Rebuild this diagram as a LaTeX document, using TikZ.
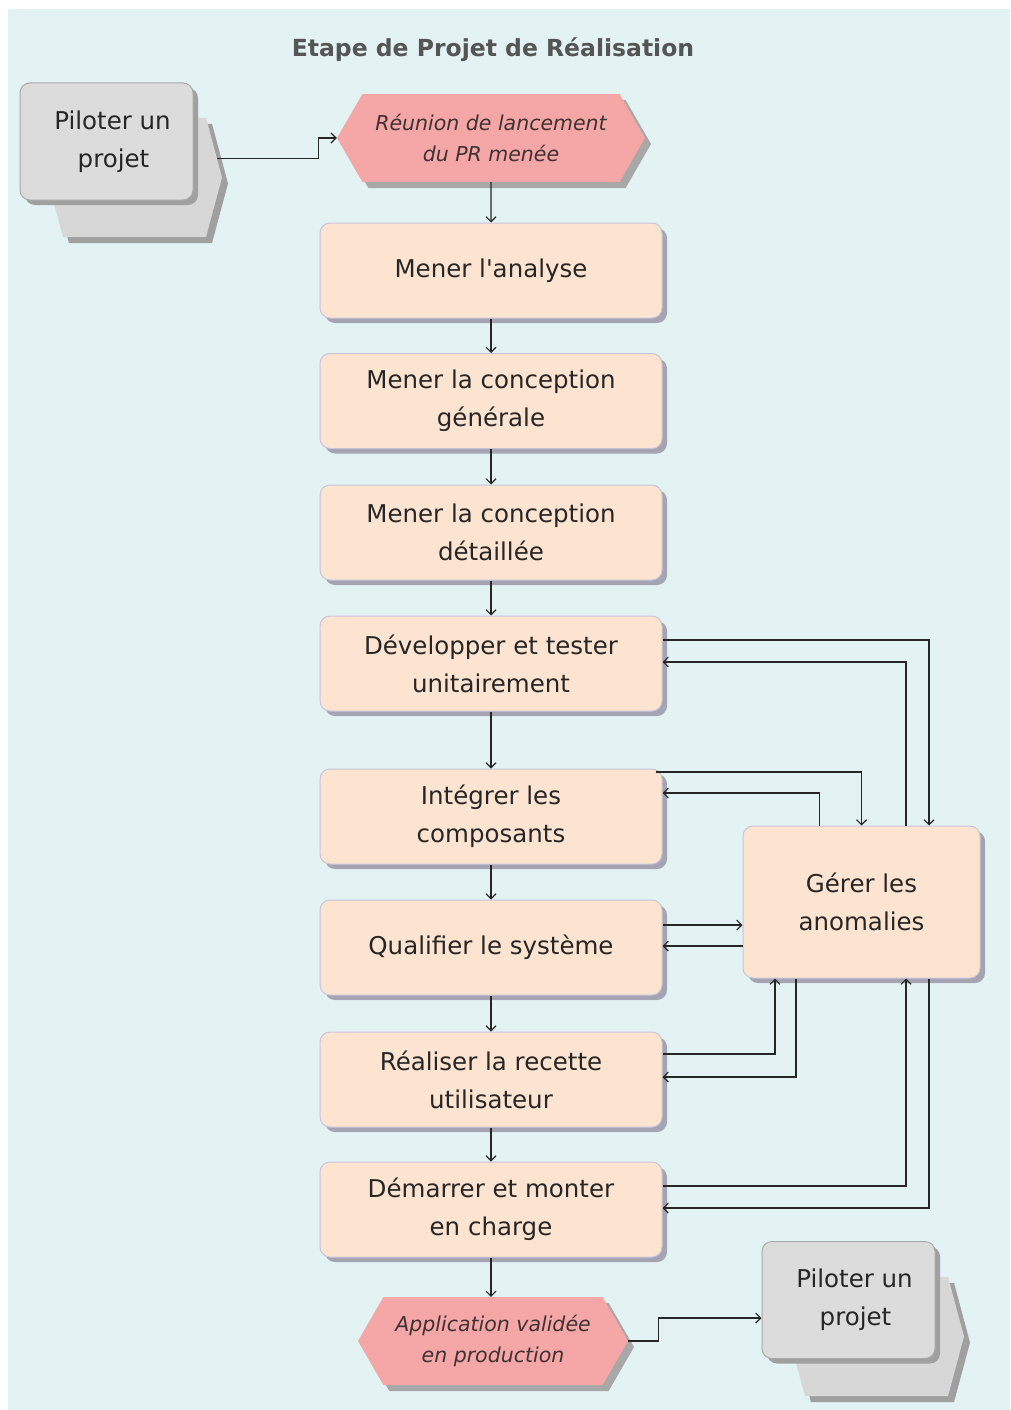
\documentclass[tikz,border=0pt]{standalone}
\usepackage{fontspec}
\setmainfont{DejaVu Sans}
\usetikzlibrary{shapes.symbols,shadows,arrows.meta,calc}
\definecolor{bgc}{HTML}{E3F3F4}
\definecolor{peach}{HTML}{FDE4D0}
\definecolor{peachborder}{HTML}{C9C3DA}
\definecolor{procshadow}{HTML}{A4A4B2}
\definecolor{pinkc}{HTML}{F4A7A6}
\definecolor{pinkshadow}{HTML}{A8A8A8}
\definecolor{grayfront}{HTML}{DCDCDC}
\definecolor{grayborder}{HTML}{A9A9A9}
\definecolor{grayback}{HTML}{D7D7D7}
\definecolor{grayshadow}{HTML}{A0A0A0}
\definecolor{txtc}{HTML}{262626}
\definecolor{evtext}{HTML}{3F3232}
\definecolor{titlec}{HTML}{555555}
\definecolor{linec}{HTML}{262626}
\begin{document}
\begin{tikzpicture}[x=1pt,y=-1pt,
  every node/.style={font=\fontsize{24.5}{38}\selectfont, text=txtc},
  proc/.style={rectangle, rounded corners=10pt, fill=peach, draw=peachborder, line width=1pt,
    minimum width=342pt, minimum height=95pt, align=center, inner sep=0pt,
    drop shadow={shadow xshift=5pt, shadow yshift=-5pt, fill=procshadow, opacity=1}},
  event/.style={shape=signal, signal to=east and west, signal pointer angle=120,
    fill=pinkc, draw=none, align=center, inner sep=0pt,
    minimum height=88pt, text=evtext,
    font=\fontsize{20.5}{31}\selectfont\itshape,
    drop shadow={shadow xshift=6pt, shadow yshift=-6pt, fill=pinkshadow, opacity=1}},
  gfront/.style={rectangle, rounded corners=10pt, fill=grayfront, draw=grayborder, line width=1pt,
    minimum width=173pt, minimum height=117pt, align=center, inner sep=0pt,
    drop shadow={shadow xshift=5pt, shadow yshift=-5pt, fill=grayshadow, opacity=1}},
  gback/.style={shape=signal, signal to=east and west, signal pointer angle=150,
    fill=grayback, draw=none, minimum width=175pt, minimum height=119pt, inner sep=0pt,
    drop shadow={shadow xshift=6pt, shadow yshift=-6pt, fill=grayshadow, opacity=1}},
  arr/.style={draw=linec, line width=1.1pt, -{Straight Barb[length=5pt,width=10pt]}}
]
\useasboundingbox (0,0) rectangle (1010,1410);
\fill[bgc] (8,9) rectangle (1010,1410);

\node[font=\fontsize{23.5}{28}\selectfont\bfseries, text=titlec] (title) at (493,50) {Etape de Projet de Réalisation};

% top "Piloter un projet"
\node[gback] (p1b) at (134.5,177.5) {};
\node[gfront] (p1) at (106.5,141.5) {\hspace*{12pt}Piloter un\\\hspace*{14pt}projet};

\node[event, minimum width=308pt] (ev1) at (491,138) {Réunion de lancement\\du PR menée};

\node[proc] (a1) at (491,270.5) {Mener l\textquotesingle analyse};
\node[proc] (a2) at (491,401) {Mener la conception\\générale};
\node[proc] (a3) at (491,532.5) {Mener la conception\\détaillée};
\node[proc] (a4) at (491,663.5) {Développer et tester\\unitairement};
\node[proc] (a5) at (491,816.5) {Intégrer les\\composants};
\node[proc] (a6) at (491,947.5) {Qualifier le système};
\node[proc] (a7) at (491,1079.5) {Réaliser la recette\\utilisateur};
\node[proc] (a8) at (491,1209.5) {Démarrer et monter\\en charge};

\node[proc, minimum width=237pt, minimum height=152pt] (ga) at (861.5,902) {Gérer les\\anomalies};

\node[event, minimum width=270pt] (ev2) at (493,1341) {Application validée\\en production};

% bottom "Piloter un projet"
\node[gback] (p2b) at (876.5,1336.5) {};
\node[gfront] (p2) at (848.5,1300) {\hspace*{12pt}Piloter un\\\hspace*{14pt}projet};

% main flow
\draw[arr] (p1b.13) -- ++(101,0) |- (ev1.west);
\draw[arr] (ev1) -- (a1);
\draw[arr] (a1) -- (a2);
\draw[arr] (a2) -- (a3);
\draw[arr] (a3) -- (a4);
\draw[arr] (a4) -- (a5);
\draw[arr] (a5) -- (a6);
\draw[arr] (a6) -- (a7);
\draw[arr] (a7) -- (a8);
\draw[arr] (a8.south) -- (a8.south |- ev2.north);
\draw[arr] (ev2.east) -- ++(30,0) |- ([yshift=-18pt]p2.west);

% anomalies loops
\draw[arr] ([yshift=23.5pt]a4.east) -| ([xshift=67.5pt]ga.north);
\draw[arr] ([xshift=44.5pt]ga.north) |- ([yshift=1.5pt]a4.east);
\draw[arr] ([shift={(-7pt,44.5pt)}]a5.east) -| (ga.north);
\draw[arr] ([xshift=-42pt]ga.north) |- ([yshift=23.5pt]a5.east);
\draw[arr] ([yshift=22.5pt]a6.east) -- ([yshift=22.5pt]a6.east -| ga.west);
\draw[arr] ([yshift=-44pt]ga.west) -- ([yshift=-44pt]ga.west -| a6.east);
\draw[arr] ([yshift=25.5pt]a7.east) -| ([xshift=-86.5pt]ga.south);
\draw[arr] ([xshift=-65.5pt]ga.south) |- ([yshift=2.5pt]a7.east);
\draw[arr] ([yshift=23.5pt]a8.east) -| ([xshift=44.5pt]ga.south);
\draw[arr] ([xshift=67.5pt]ga.south) |- ([yshift=1.5pt]a8.east);
\end{tikzpicture}
\end{document}
